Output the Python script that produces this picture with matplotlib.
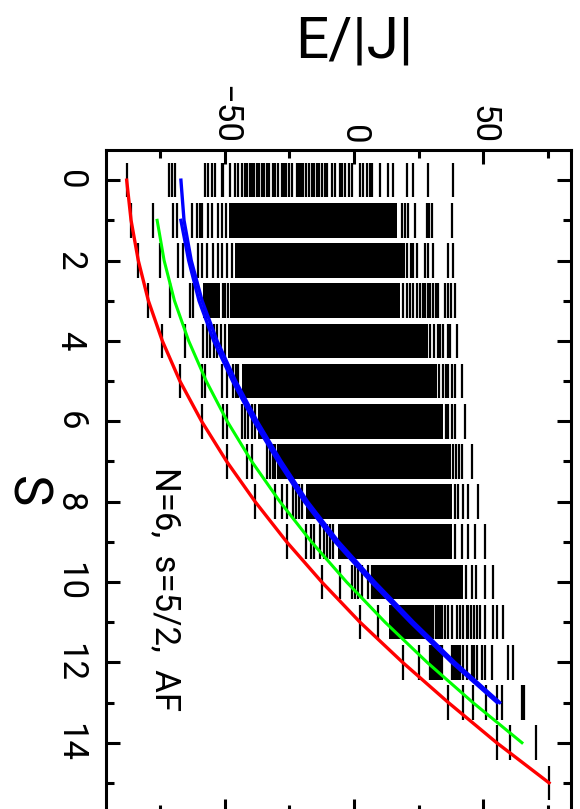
import matplotlib
matplotlib.use("Agg")
import matplotlib.pyplot as plt
from matplotlib.ticker import MultipleLocator

# energy levels E/|J| for each total spin S (isolated lines)
lines_s0 = [-88.0, -71.5, -70.6, -69.3, -57.7, -56.4, -55.1, -53.8, -51.2, -50.6, -48.0,
            -46.1, -44.8, -43.5, -42.2, -41.5, -40.3, -39.4, -38.6, -37.5, -36.8, -35.7,
            -34.9, -33.6, -32.8, -31.5, -30.6, -29.3, -28.0, -27.1, -26.2, -25.0, -24.1,
            -22.2, -21.3, -20.5, -19.6, -18.4, -17.5, -16.3, -15.6, -14.4, -13.5, -12.2,
            -11.4, -10.6, -8.6, -7.4, -5.4, -4.5, -3.3, -2.1, -0.9, 2.3, 3.5, 4.9, 6.0,
            6.8, 10.1, 13.3, 15.2, 20.4, 23.0, 28.8, 38.2]
lines_s1 = [-86.3, -77.7, -70.0, -68.7, -62.8, -60.9, -59.6, -59.0, -56.4, -55.1, -52.5,
            -51.2, -49.6, 18.5, 19.8, 21.0, 23.6, 28.1, 29.2, 30.1, 37.8]
lines_s2 = [-83.5, -75.1, -68.0, -66.1, -60.3, -59.0, -57.0, -54.5, -52.5, -51.2, -49.3,
            -47.3, 20.4, 22.0, 23.0, 24.3, 27.5, 28.5, 30.7, 36.5, 38.4]
lines_s3 = [-79.6, -71.2, -63.5, -62.2, -50.7, -49.8, -48.8, 19.1, 20.5, 21.7, 23.0, 24.3,
            25.6, 26.9, 27.5, 28.5, 29.4, 30.7, 31.7, 32.6, 35.1, 36.4, 37.7, 39.0]
lines_s4 = [-74.2, -65.4, -58.3, -57.0, -55.6, -54.2, -53.1, -51.5, -50.0, 29.5, 31.0,
            32.6, 33.3, 34.6, 36.4, 37.2, 39.7]
lines_s5 = [-67.4, -59.0, -57.7, -51.2, -49.3, -46.8, -45.6, -44.8, 33.0, 34.3, 35.5,
            36.5, 37.8, 39.1, 41.7]
lines_s6 = [-59.0, -50.7, -49.3, -43.5, -42.2, -41.0, -39.6, -38.3, 35.5, 36.5, 38.0,
            39.1, 42.9]
lines_s7 = [-49.3, -41.6, -39.6, -33.8, -32.5, -31.5, -30.6, 38.5, 39.5, 40.7, 41.7, 45.5]
lines_s8 = [-38.3, -30.6, -28.0, -26.1, -23.5, -22.4, -21.3, -20.3, 39.1, 40.4, 42.3,
            44.3, 48.1]
lines_s9 = [-26.1, -18.6, -16.7, -15.4, -13.2, -11.8, -10.5, -9.2, -8.0, 39.1, 41.7,
            44.3, 46.8, 50.7]
lines_s10 = [-12.5, -5.4, -0.9, 0.4, 1.7, 3.0, 5.5, 6.8, 43.4, 45.5, 47.4, 50.7, 53.9]
lines_s11 = [2.3, 9.4, 30.7, 31.6, 32.5, 33.3, 33.9, 35.2, 36.4, 37.8, 39.7, 41.0, 42.3,
             43.6, 44.3, 45.4, 46.5, 47.5, 48.8, 50.7, 53.9, 55.2, 57.8]
lines_s12 = [18.8, 25.3, 29.4, 30.1, 30.8, 31.4, 32.0, 32.6, 33.3, 33.9, 37.8, 38.6, 39.4,
             40.2, 41.0, 42.3, 43.6, 45.6, 46.5, 47.5, 49.4, 50.7, 53.3, 59.7, 61.4]
lines_s13 = [36.5, 42.3, 46.2, 51.1, 55.4, 57.3, 65.2, 65.8]
lines_s14 = [55.2, 60.4, 70.5]
lines_s15 = [75.5]

# dense parts of the spectrum (lo, hi) where the lines merge into black blocks
bands_s1 = [(-48.4, 16.5)]
bands_s2 = [(-46.1, 19.7)]
bands_s3 = [(-58.3, -52.0), (-48.0, 17.8)]
bands_s4 = [(-48.7, 28.5)]
bands_s5 = [(-43.5, 32.0)]
bands_s6 = [(-37.0, 34.5)]
bands_s7 = [(-29.9, 37.5)]
bands_s8 = [(-18.6, 38.0)]
bands_s9 = [(-6.1, 37.8)]
bands_s10 = [(7.5, 42.3)]
bands_s11 = [(13.7, 30.1)]

# rotational band curves
s_red = list(range(0, 16))
e_red = [-88.0, -86.3, -83.5, -79.6, -74.2, -67.4, -59.0, -49.3, -38.3, -26.1, -12.5,
         2.3, 18.8, 36.5, 55.2, 75.5]
s_green = list(range(1, 15))
e_green = [-76.2, -73.5, -69.5, -64.0, -57.2, -49.1, -39.6, -28.7, -16.5, -2.9, 12.0,
           28.3, 46.0, 65.0]
s_blue1 = list(range(0, 14))
e_blue1 = [-67.0, -65.8, -63.0, -58.8, -53.0, -45.8, -37.5, -28.2, -18.0, -6.0, 8.0,
           23.0, 39.0, 56.4]
s_blue2 = list(range(1, 14))
e_blue2 = [-67.0, -64.0, -60.0, -54.3, -47.0, -38.7, -29.4, -19.2, -7.3, 6.7, 21.8,
           37.8, 55.4]

all_lines = [lines_s0, lines_s1, lines_s2, lines_s3, lines_s4, lines_s5, lines_s6,
             lines_s7, lines_s8, lines_s9, lines_s10, lines_s11, lines_s12, lines_s13,
             lines_s14, lines_s15]
all_bands = {1: bands_s1, 2: bands_s2, 3: bands_s3, 4: bands_s4, 5: bands_s5,
             6: bands_s6, 7: bands_s7, 8: bands_s8, 9: bands_s9, 10: bands_s10,
             11: bands_s11}

FONT = dict(family="Roboto")
HALF = 0.43

fig = plt.figure(figsize=(5.8, 8.09), dpi=100)
ax = fig.add_axes([106 / 580, -4 / 809, 465 / 580, 663 / 809])

for s, levels in enumerate(all_lines):
    ax.vlines(levels, s - HALF, s + HALF, colors="black", linewidth=1.6, zorder=2)
for s, bands in all_bands.items():
    ax.broken_barh([(lo, hi - lo) for lo, hi in bands], (s - HALF, 2 * HALF),
                   facecolors="black", edgecolor="none", zorder=2)

ax.plot(e_red, s_red, color="#ff0000", linewidth=2.4, zorder=3)
ax.plot(e_green, s_green, color="#00ff00", linewidth=2.2, zorder=3)
ax.plot(e_blue1, s_blue1, color="#0000ff", linewidth=2.4, zorder=3)
ax.plot(e_blue2, s_blue2, color="#0000ff", linewidth=2.4, zorder=3)

ax.set_xlim(-96, 84)
ax.set_ylim(15.75, -0.75)

for side in ax.spines.values():
    side.set_linewidth(2.2)

ax.xaxis.set_major_locator(MultipleLocator(50))
ax.xaxis.set_minor_locator(MultipleLocator(25))
ax.yaxis.set_major_locator(MultipleLocator(2))
ax.yaxis.set_minor_locator(MultipleLocator(1))
ax.tick_params(which="both", direction="in", top=True, bottom=True, left=True,
               right=True, width=2.2)
ax.tick_params(which="major", length=10)
ax.tick_params(which="minor", length=6)
ax.tick_params(axis="x", labeltop=True, labelbottom=False, pad=4)
ax.tick_params(axis="y", pad=14)

for lbl in ax.get_xticklabels():
    lbl.set_rotation(-90)
    lbl.set_ha("center")
    lbl.set_va("bottom")
    lbl.set(fontsize=25, **FONT)
for lbl in ax.get_yticklabels():
    lbl.set_rotation(-90)
    lbl.set_ha("right")
    lbl.set_va("center")
    lbl.set(fontsize=25, **FONT)

fig.text(354 / 580, 1 - 42 / 809, "E/|J|", fontsize=42, ha="center", va="center", **FONT)
fig.text(0, 1 - 492 / 809, "S", fontsize=38, rotation=-90,
         ha="left", va="center", **FONT)
ax.text(-73.2, 7.15, "N=6,  s=5/2,  AF", fontsize=25, rotation=-90,
        ha="center", va="top", **FONT)

fig.savefig("out.png", dpi=100)
